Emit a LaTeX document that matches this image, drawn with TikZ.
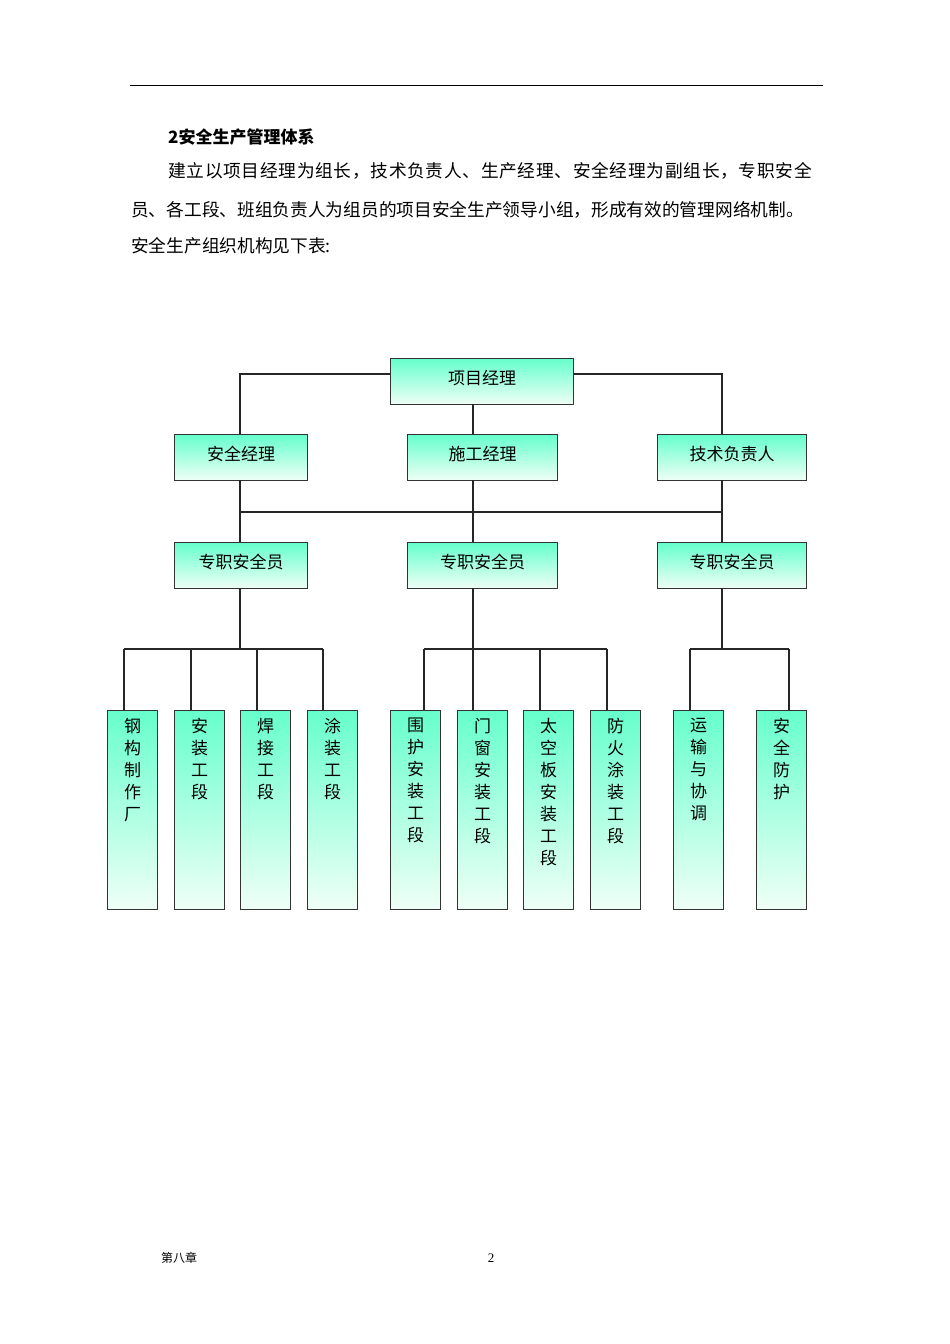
\documentclass[tikz,border=0pt]{standalone}
\usepackage{fontspec}
\setmainfont{Liberation Serif}
\newfontfamily\cjk{Noto Sans CJK SC}
\newfontfamily\cjkwide{Noto Sans CJK SC}[LetterSpace=4]
\definecolor{gtop}{RGB}{102,255,204}
\definecolor{gbot}{RGB}{240,255,248}
\begin{document}
\begin{tikzpicture}[x=1pt,y=-1pt,
  box/.style={draw=black!80,line width=1.2pt,top color=gtop,bottom color=gbot,inner sep=0pt,anchor=north west},
  lbl/.style={font=\cjk\fontsize{17}{22}\selectfont,yshift=4pt},
  vlbl/.style={font=\cjk\fontsize{17}{22}\selectfont,align=center,anchor=north,inner sep=0pt},
  ln/.style={draw=black!85,line width=1.2pt},
  txt/.style={font=\cjk\fontsize{17.7}{22}\selectfont,anchor=west,inner sep=0pt}]
\useasboundingbox (0,0) rectangle (950,1344);
\fill[white] (0,0) rectangle (950,1344);
\draw[line width=1pt] (130,85) -- (823,85);
\node[txt,font=\cjk\bfseries\fontsize{17}{22}\selectfont] (h) at (168,137) {2安全生产管理体系};
\node[txt,font=\cjkwide\fontsize{17.7}{22}\selectfont] (p1) at (168,171) {建立以项目经理为组长，技术负责人、生产经理、安全经理为副组长，专职安全};
\node[txt] (p2) at (131,210) {员、各工段、班组负责人为组员的项目安全生产领导小组，形成有效的管理网络机制。};
\node[txt] (p3) at (131,246) {安全生产组织机构见下表:};
% level 1
\node[box,minimum width=183pt,minimum height=46pt] (pm) at (390,358) {};
\node[lbl] at (pm.center) {项目经理};
% level 2
\foreach \n/\x/\w/\t in {sm/174/133/安全经理, cm/407/150/施工经理, tm/657/149/技术负责人}{
  \node[box,minimum width=\w pt,minimum height=46pt] (\n) at (\x,434) {};
  \node[lbl] at (\n.center) {\t};
}
% level 3
\foreach \n/\x/\w in {s1/174/133, s2/407/150, s3/657/149}{
  \node[box,minimum width=\w pt,minimum height=46pt] (\n) at (\x,542) {};
  \node[lbl] at (\n.center) {专职安全员};
}
% connectors top
\coordinate (cl) at (240,374); \coordinate (cr) at (722,374);
\draw[ln] (pm.west |- cl) -- (cl) -- (cl |- sm.north);
\draw[ln] (pm.east |- cr) -- (cr) -- (cr |- tm.north);
\draw[ln] (473,404) -- (473,434);
\draw[ln] (240,480) -- (240,542);
\draw[ln] (473,480) -- (473,542);
\draw[ln] (722,480) -- (722,542);
\draw[ln] (240,512) -- (722,512);
% bottom boxes
\foreach \n/\x/\t in {
 b1/107/钢\\构\\制\\作\\厂, b2/174/安\\装\\工\\段, b3/240/焊\\接\\工\\段, b4/307/涂\\装\\工\\段,
 b5/390/围\\护\\安\\装\\工\\段, b6/457/门\\窗\\安\\装\\工\\段, b7/523/太\\空\\板\\安\\装\\工\\段, b8/590/防\\火\\涂\\装\\工\\段,
 b9/673/运\\输\\与\\协\\调, b10/756/安\\全\\防\\护}{
  \node[box,minimum width=50pt,minimum height=199pt] (\n) at (\x,710) {};
  \node[vlbl] at ([yshift=-8pt]\n.north) {\t};
}
% bottom connectors
\draw[ln] (240,588) -- (240,649);
\draw[ln] (124,649) -- (323,649);
\foreach \x in {124,191,257,323} \draw[ln] (\x,649) -- (\x,710);
\draw[ln] (473,588) -- (473,710);
\draw[ln] (424,649) -- (607,649);
\foreach \x in {424,540,607} \draw[ln] (\x,649) -- (\x,710);
\draw[ln] (722,588) -- (722,649);
\draw[ln] (690,649) -- (789,649);
\foreach \x in {690,789} \draw[ln] (\x,649) -- (\x,710);
% footer
\node[txt,font=\cjk\fontsize{12}{14}\selectfont] (f1) at (161,1258) {第八章};
\node[font=\fontsize{13}{15}\selectfont,inner sep=0pt] (f2) at (491,1258) {2};
\end{tikzpicture}
\end{document}
